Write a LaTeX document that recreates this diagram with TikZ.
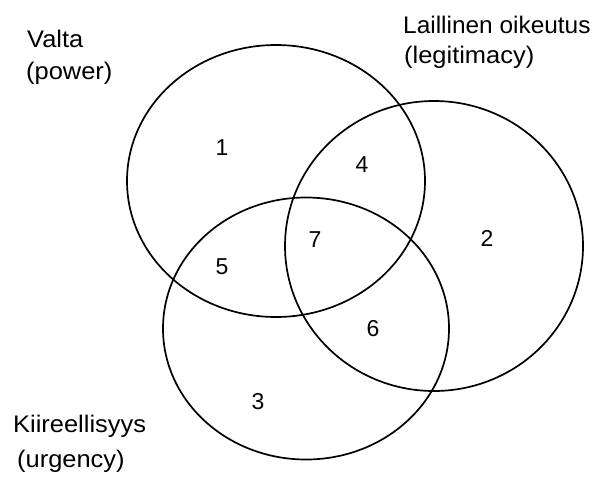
\documentclass[tikz,border=0pt]{standalone}
\usepackage{fontspec}
\setmainfont{Liberation Sans}
\begin{document}
\begin{tikzpicture}[x=1pt,y=-1pt,
  setline/.style={line width=1.7pt, black},
  setlabel/.style={anchor=base west, inner sep=0pt, font=\fontsize{24}{28}\selectfont, xscale=1.06},
  regionno/.style={inner sep=0pt, font=\fontsize{23}{27}\selectfont}]
  \useasboundingbox (0,0) rectangle (596,477);
  % the three sets
  \draw[setline] (276,181) ellipse [x radius=149, y radius=136];
  \draw[setline] (434,246) ellipse [x radius=149, y radius=145];
  \draw[setline] (306,328.5) ellipse [x radius=143, y radius=131];
  % set names
  \node[setlabel] (valta) at (27,47) {Valta};
  \node[setlabel] (power) at (26,79) {(power)};
  \node[setlabel, xscale=0.96] (laillinen) at (403,33) {Laillinen oikeutus};
  \node[setlabel] (legit) at (404,63) {(legitimacy)};
  \node[setlabel] (kiire) at (13,432) {Kiireellisyys};
  \node[setlabel] (urgency) at (17,467) {(urgency)};
  % region numbers
  \node[regionno] (r1) at (222,148) {1};
  \node[regionno] (r2) at (487,238) {2};
  \node[regionno] (r3) at (258,402) {3};
  \node[regionno] (r4) at (362,165) {4};
  \node[regionno] (r5) at (222,267) {5};
  \node[regionno] (r6) at (373,329) {6};
  \node[regionno] (r7) at (315,240) {7};
\end{tikzpicture}
\end{document}
